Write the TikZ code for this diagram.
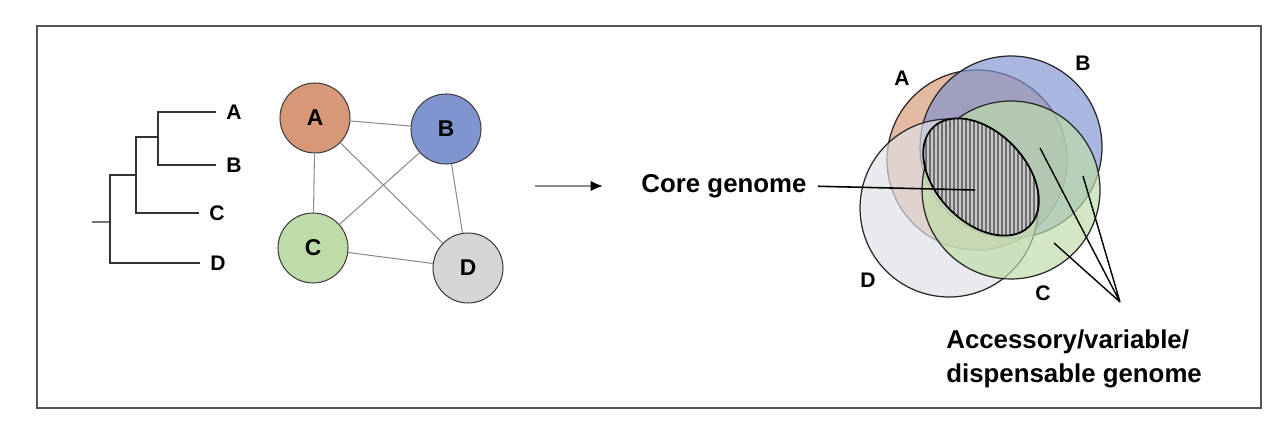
\documentclass[tikz,border=0pt]{standalone}
\usepackage{fontspec}
\setmainfont{Liberation Sans}
\usetikzlibrary{positioning,arrows.meta}
\definecolor{isoA}{RGB}{214,152,118}
\definecolor{isoB}{RGB}{128,148,208}
\definecolor{isoC}{RGB}{190,220,168}
\definecolor{isoD}{RGB}{214,214,214}
\definecolor{isoDv}{RGB}{222,224,228}
\definecolor{framegray}{RGB}{85,85,85}
\tikzset{
  taxon/.style={font=\fontsize{12}{14}\selectfont\bfseries, inner sep=0pt},
  isolate/.style={circle, draw=black!75, line width=0.6pt, minimum size=1.4cm, inner sep=0pt,
    font=\fontsize{13}{15}\selectfont\bfseries},
  link/.style={draw=black!45, line width=0.6pt},
  branch/.style={line width=0.9pt, black!80},
  genome/.style={draw=black!85, line width=0.7pt, fill opacity=0.68},
  caption/.style={font=\fontsize{14.7}{19.3}\selectfont\bfseries, inner sep=0pt, align=left},
}
\begin{document}
\begin{tikzpicture}[x=0.02cm, y=-0.02cm]
\useasboundingbox (0,0) rectangle (1280,428);
\draw (37,26) rectangle (1261,408) [framegray, line width=1pt];

% tree
\coordinate (stub) at (92,222);
\coordinate (root) at (110,222);
\coordinate (n1) at (136,175);
\coordinate (n2) at (158,137);
\coordinate (eA) at (216,112);
\coordinate (eB) at (216,165);
\coordinate (eC) at (199,213);
\coordinate (eD) at (200,263);
\node[taxon, right=0.2cm of eA] (tA) {A};
\node[taxon, right=0.2cm of eB] (tB) {B};
\node[taxon, right=0.2cm of eC] (tC) {C};
\node[taxon, right=0.2cm of eD] (tD) {D};
\draw (stub)--(root) [branch, black!55];
\draw (n1) -| (root) [branch];
\draw (root) |- (eD) [branch];
\draw (n2) -| (n1) [branch];
\draw (n1) |- (eC) [branch];
\draw (n2) |- (eA) [branch];
\draw (n2) |- (eB) [branch];

% network
\node[isolate, fill=isoA] (A) at (315,118) {A};
\node[isolate, fill=isoB] (B) at (446,129) {B};
\node[isolate, fill=isoC] (C) at (313,248) {C};
\node[isolate, fill=isoD] (D) at (468,268) {D};
\draw[link] (A)--(B) (A)--(C) (A)--(D) (B)--(C) (B)--(D) (C)--(D);

\coordinate (arrS) at (535,186);
\coordinate (arrE) at (603,186);
\draw[-{Latex[length=7pt,width=6pt,color=black]}, black!45, line width=1.2pt] (arrS)--(arrE);

\node[caption] (core) at (724,186) {Core genome};

% pan-genome
\draw[genome, fill=isoA] (977,160) circle [radius=1.8cm];
\draw[genome, fill=isoB] (1011,147) circle [radius=1.82cm];
\draw[genome, fill=isoDv] (949,208) circle [radius=1.78cm];
\draw[genome, fill=isoC] (1011,190) circle [radius=1.78cm];
\begin{scope}
  \clip[rotate around={-46:(981,177)}] (981,177) ellipse [x radius=1.38cm, y radius=0.9cm];
  \fill[black!60, opacity=0.9] (910,100) rectangle (1050,250);
  \foreach \x in {912,916,...,1048}
    \draw (\x,100)--(\x,250) [black!22, line width=0.9pt];
\end{scope}
\draw[rotate around={-46:(981,177)}, line width=1pt] (981,177) ellipse [x radius=1.38cm, y radius=0.9cm];

\node[taxon] (vA) at (902,78) {A};
\node[taxon] (vB) at (1083,63) {B};
\node[taxon] (vC) at (1043,293) {C};
\node[taxon] (vD) at (868,280) {D};

\coordinate (coreP) at (975,190);
\draw[shorten <=0.22cm, line width=0.9pt] (core.east)--(coreP);

\coordinate (acc) at (1120,302);
\coordinate (p1) at (1040,148);
\coordinate (p2) at (1083,176);
\coordinate (p3) at (1054,243);
\draw[line width=0.8pt] (p1)--(acc)--(p2) (p3)--(acc);

\node[caption, anchor=west] (acctext) at (946,359) {Accessory/variable/\\dispensable genome};
\end{tikzpicture}
\end{document}
